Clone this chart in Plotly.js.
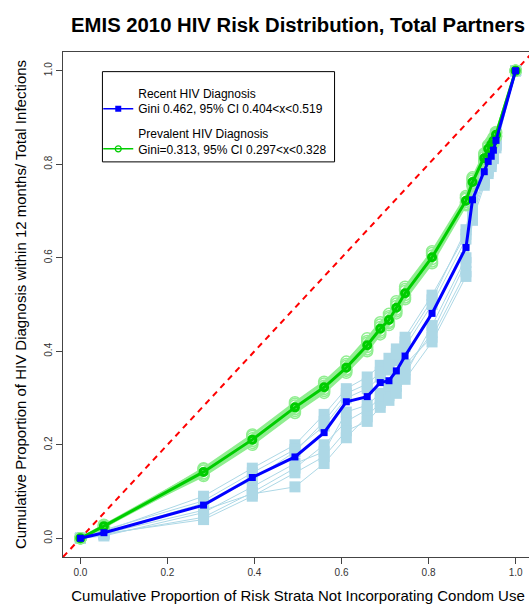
<!DOCTYPE html>
<html>
<head>
<meta charset="utf-8">
<script src="https://cdn.plot.ly/plotly-3.0.1.min.js"></script>
<style>
html, body { margin: 0; padding: 0; overflow: hidden; background: #fff; }
#chart { width: 540px; height: 604px; }
</style>
</head>
<body>
<div id="chart"></div>
<script>
// Cumulative proportion of risk strata (shared x for all curves)
const xStrata = [0, 0.054, 0.283, 0.395, 0.493, 0.560, 0.611, 0.659, 0.689, 0.709, 0.726, 0.746, 0.808, 0.886, 0.901, 0.928, 0.937, 0.944, 0.949, 0.955, 1.0];

// Main curves
const recentY    = [0, 0.012, 0.071, 0.130, 0.174, 0.226, 0.292, 0.303, 0.333, 0.337, 0.358, 0.390, 0.481, 0.622, 0.724, 0.784, 0.806, 0.817, 0.830, 0.851, 1.0];
const prevalentY = [0, 0.026, 0.142, 0.211, 0.280, 0.323, 0.365, 0.413, 0.448, 0.467, 0.493, 0.524, 0.601, 0.722, 0.762, 0.813, 0.833, 0.842, 0.850, 0.863, 1.0];

// Bootstrap replicates, recent diagnosis (light blue)
const recentBoot1 = [0, 0.008, 0.045, 0.098, 0.150, 0.200, 0.250, 0.275, 0.300, 0.318, 0.335, 0.360, 0.440, 0.590, 0.700, 0.765, 0.790, 0.805, 0.820, 0.842, 1.0];
const recentBoot2 = [0, 0.015, 0.090, 0.150, 0.200, 0.265, 0.320, 0.345, 0.370, 0.385, 0.405, 0.430, 0.520, 0.650, 0.740, 0.800, 0.822, 0.832, 0.845, 0.862, 1.0];
const recentBoot3 = [0, 0.010, 0.060, 0.095, 0.110, 0.160, 0.215, 0.260, 0.290, 0.305, 0.325, 0.350, 0.455, 0.600, 0.705, 0.770, 0.795, 0.808, 0.823, 0.845, 1.0];
const recentBoot4 = [0, 0.018, 0.080, 0.140, 0.190, 0.240, 0.300, 0.320, 0.345, 0.360, 0.380, 0.410, 0.500, 0.640, 0.730, 0.790, 0.812, 0.825, 0.838, 0.858, 1.0];
const recentBoot5 = [0, 0.005, 0.055, 0.110, 0.160, 0.185, 0.270, 0.285, 0.310, 0.325, 0.345, 0.372, 0.430, 0.570, 0.690, 0.760, 0.785, 0.800, 0.815, 0.840, 1.0];
const recentBoot6 = [0, 0.012, 0.075, 0.125, 0.185, 0.250, 0.310, 0.330, 0.355, 0.370, 0.395, 0.420, 0.510, 0.660, 0.745, 0.805, 0.825, 0.835, 0.848, 0.865, 1.0];
const recentBoot7 = [0, 0.010, 0.040, 0.090, 0.140, 0.175, 0.230, 0.250, 0.280, 0.295, 0.310, 0.340, 0.420, 0.560, 0.680, 0.755, 0.780, 0.795, 0.812, 0.835, 1.0];

// Bootstrap replicates, prevalent diagnosis (light green)
const prevalentBoot1 = [0, 0.024, 0.136, 0.204, 0.272, 0.315, 0.358, 0.404, 0.440, 0.460, 0.485, 0.515, 0.592, 0.715, 0.756, 0.807, 0.828, 0.838, 0.846, 0.860, 1.0];
const prevalentBoot2 = [0, 0.028, 0.148, 0.219, 0.288, 0.331, 0.373, 0.422, 0.457, 0.475, 0.502, 0.533, 0.610, 0.729, 0.769, 0.820, 0.838, 0.847, 0.855, 0.867, 1.0];
const prevalentBoot3 = [0, 0.025, 0.145, 0.214, 0.284, 0.326, 0.369, 0.418, 0.452, 0.471, 0.497, 0.529, 0.605, 0.726, 0.765, 0.816, 0.836, 0.845, 0.852, 0.865, 1.0];
const prevalentBoot4 = [0, 0.027, 0.139, 0.208, 0.276, 0.319, 0.361, 0.409, 0.444, 0.463, 0.489, 0.520, 0.597, 0.719, 0.759, 0.810, 0.830, 0.840, 0.848, 0.861, 1.0];
const prevalentBoot5 = [0, 0.023, 0.150, 0.222, 0.291, 0.335, 0.378, 0.428, 0.462, 0.480, 0.507, 0.538, 0.614, 0.732, 0.772, 0.823, 0.841, 0.849, 0.857, 0.869, 1.0];
const prevalentBoot6 = [0, 0.029, 0.133, 0.200, 0.268, 0.311, 0.354, 0.400, 0.436, 0.456, 0.481, 0.511, 0.588, 0.712, 0.753, 0.805, 0.826, 0.836, 0.844, 0.858, 1.0];

const tickVals = [0, 0.2, 0.4, 0.6, 0.8, 1.0];
const tickText = ["0.0", "0.2", "0.4", "0.6", "0.8", "1.0"];

const recentName = "Recent HIV Diagnosis<br>Gini 0.462, 95% CI 0.404&lt;x&lt;0.519";
const prevalentName = "Prevalent HIV Diagnosis<br>Gini=0.313, 95% CI 0.297&lt;x&lt;0.328";

const recentBoots = [recentBoot1, recentBoot2, recentBoot3, recentBoot4, recentBoot5, recentBoot6, recentBoot7];
const prevalentBoots = [prevalentBoot1, prevalentBoot2, prevalentBoot3, prevalentBoot4, prevalentBoot5, prevalentBoot6];

const traces = [];
recentBoots.forEach(b => traces.push({
  x: xStrata, y: b, type: 'scatter', mode: 'lines+markers', showlegend: false, hoverinfo: 'skip',
  line: {color: '#ADD8E6', width: 1},
  marker: {symbol: 'square', size: 11, color: '#ADD8E6'}
}));
prevalentBoots.forEach(b => traces.push({
  x: xStrata, y: b, type: 'scatter', mode: 'lines+markers', showlegend: false, hoverinfo: 'skip',
  line: {color: '#90EE90', width: 2},
  marker: {symbol: 'circle-open', size: 11, color: '#90EE90', line: {width: 1.5, color: '#90EE90'}}
}));
traces.push({
  x: xStrata, y: prevalentY, type: 'scatter', mode: 'lines+markers', name: prevalentName,
  showlegend: false,
  line: {color: '#00CD00', width: 3},
  marker: {symbol: 'circle-open', size: 7, color: '#00CD00', line: {width: 3, color: '#00CD00'}}
});
traces.push({
  x: xStrata, y: recentY, type: 'scatter', mode: 'lines+markers', name: recentName,
  showlegend: false,
  line: {color: '#0000FF', width: 3},
  marker: {symbol: 'square', size: 7, color: '#0000FF'}
});
// Legend entries (drawn in the legend only, with the reference's thin legend styling)
traces.push({
  x: [null], y: [null], type: 'scatter', mode: 'lines+markers', name: recentName,
  legendgroup: 'recent', legendrank: 1,
  line: {color: '#0000FF', width: 1.5},
  marker: {symbol: 'square', size: 6, color: '#0000FF'}
});
traces.push({
  x: [null], y: [null], type: 'scatter', mode: 'lines+markers', name: prevalentName,
  legendgroup: 'prevalent', legendrank: 2,
  line: {color: '#00CD00', width: 1.5},
  marker: {symbol: 'circle-open', size: 6, color: '#00CD00', line: {width: 1.2, color: '#00CD00'}}
});

const axisCommon = {
  range: [-0.04, 1.04], autorange: false,
  tickmode: 'array', tickvals: tickVals, ticktext: tickText,
  ticks: 'outside', ticklen: 6, tickwidth: 1, tickcolor: '#444',
  showline: true, mirror: true, linecolor: '#444', linewidth: 1,
  showgrid: false, zeroline: false,
  tickfont: {family: 'Liberation Sans, Arial, sans-serif', size: 10, color: '#333'},
  automargin: false
};

const layout = {
  width: 540, height: 604,
  margin: {l: 63, r: 7, t: 52, b: 47},
  paper_bgcolor: '#fff', plot_bgcolor: '#fff',
  font: {family: 'Liberation Sans, Arial, sans-serif', color: '#000'},
  title: {
    text: '<b>EMIS 2010 HIV Risk Distribution, Total Partners</b>',
    font: {family: 'Liberation Sans, Arial, sans-serif', size: 20.3, color: '#000'},
    xref: 'paper', x: 0.5, xanchor: 'center',
    yref: 'container', y: 0.958, yanchor: 'middle'
  },
  xaxis: Object.assign({}, axisCommon, {
    title: {text: 'Cumulative Proportion of Risk Strata Not Incorporating Condom Use',
            font: {size: 15, color: '#000'}, standoff: 16}
  }),
  yaxis: Object.assign({}, axisCommon, {
    tickangle: -90,
    title: {text: 'Cumulative Proportion of HIV Diagnosis within 12 months/ Total Infections',
            font: {size: 15, color: '#000'}, standoff: 12}
  }),
  showlegend: true,
  legend: {
    x: 0.075, y: 0.947, xref: 'paper', yref: 'paper', xanchor: 'left', yanchor: 'top',
    bgcolor: 'rgba(0,0,0,0)', borderwidth: 0,
    font: {size: 12, color: '#000'},
    valign: 'bottom', traceorder: 'grouped', tracegroupgap: 6
  },
  shapes: [
    {type: 'line', xref: 'paper', yref: 'paper', x0: 0, y0: 0, x1: 1, y1: 1,
     line: {color: '#FF0000', width: 2, dash: '6px,5px'}, layer: 'below'},
    {type: 'rect', xref: 'x', yref: 'y', x0: 0.0506, x1: 0.584, y0: 0.805, y1: 0.998,
     line: {color: '#000', width: 1}, fillcolor: 'rgba(0,0,0,0)', layer: 'above'}
  ]
};

Plotly.newPlot('chart', traces, layout, {displayModeBar: false, staticPlot: true});
</script>
</body>
</html>
